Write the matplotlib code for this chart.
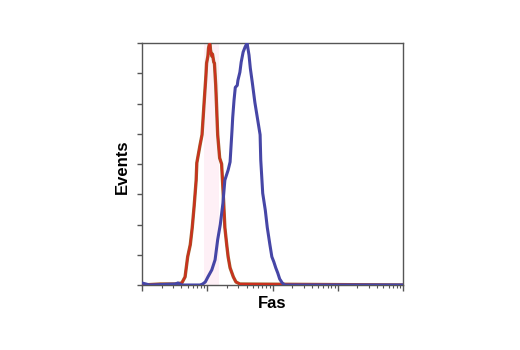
#!/usr/bin/env python3

import matplotlib

matplotlib.use("Agg")
import matplotlib.pyplot as plt
import numpy as np
from matplotlib.ticker import LogLocator, MultipleLocator, NullFormatter

plt.rcParams["font.family"] = ["Liberation Sans Narrow", "Liberation Sans", "DejaVu Sans"]

# isotype control (red): log10 intensity, events
red_log = [0.00, 0.28, 0.51, 0.61, 0.66, 0.70, 0.74, 0.77, 0.80, 0.83, 0.84, 0.89,
           0.92, 0.95, 0.98, 0.99, 1.01, 1.02, 1.04, 1.05, 1.07, 1.08, 1.10, 1.11,
           1.13, 1.16, 1.19, 1.22, 1.25, 1.27, 1.30, 1.32, 1.35, 1.40, 1.44, 1.50, 4.00]
red_cnt = [0, 1, 1, 2, 8, 28, 40, 57, 79, 104, 121, 139,
           149, 179, 208, 220, 227, 235, 241, 233, 227, 229, 221, 220,
           198, 149, 126, 120, 84, 57, 39, 28, 17, 8, 3, 1, 0]

# Fas staining (blue)
blue_log = [0.00, 0.06, 0.12, 0.51, 0.55, 0.61, 0.89, 0.93, 0.97, 1.01, 1.07, 1.12,
            1.16, 1.20, 1.24, 1.27, 1.32, 1.35, 1.38, 1.39, 1.41, 1.43, 1.46, 1.47,
            1.50, 1.52, 1.55, 1.58, 1.61, 1.64, 1.66, 1.69, 1.73, 1.76, 1.81, 1.82,
            1.85, 1.89, 1.92, 1.96, 1.99, 2.02, 2.05, 2.08, 2.11, 2.15, 2.19, 4.00]
blue_cnt = [2, 1, 0, 1, 2, 0, 0, 1, 3, 8, 15, 25,
            45, 60, 81, 104, 114, 122, 154, 166, 183, 196, 198, 203,
            211, 221, 231, 236, 240, 228, 215, 201, 181, 169, 149, 124,
            91, 74, 57, 40, 28, 23, 17, 12, 6, 2, 0, 0]

fig = plt.figure(figsize=(5.2, 3.5), dpi=100)
ax = fig.add_axes([142 / 520, 65 / 350, 261 / 520, 242 / 350])

# faint pink smear behind the control peak
ax.axvspan(10 ** 0.95, 10 ** 1.18, color="#fef0f6", zorder=0, lw=0)

ax.plot(10 ** np.array(red_log), red_cnt, color="#a0602c", lw=2.4, zorder=2,
        solid_joinstyle="round")
ax.plot(10 ** np.array(red_log), red_cnt, color="#cc2f1e", lw=1.5, zorder=3,
        solid_joinstyle="round")
ax.plot(10 ** np.array(blue_log), blue_cnt, color="#4646a6", lw=2.2, zorder=4,
        solid_joinstyle="round")

ax.set_xscale("log")
ax.set_xlim(1, 1e4)
ax.set_ylim(0, 240)
ax.xaxis.set_major_locator(LogLocator(base=10, numticks=10))
ax.xaxis.set_minor_locator(LogLocator(base=10, subs=np.arange(2, 10), numticks=20))
ax.xaxis.set_major_formatter(NullFormatter())
ax.xaxis.set_minor_formatter(NullFormatter())
ax.yaxis.set_major_locator(MultipleLocator(30))
ax.yaxis.set_major_formatter(NullFormatter())

for sp in ax.spines.values():
    sp.set_color("#555555")
    sp.set_linewidth(1.0)
ax.tick_params(axis="x", which="major", length=4.5, width=1.0, color="#555555", direction="out")
ax.tick_params(axis="x", which="minor", length=2.5, width=0.8, color="#555555", direction="out")
ax.tick_params(axis="y", which="major", length=3.5, width=1.0, color="#555555", direction="out")

fig.text(272 / 520, 1 - 303 / 350, "Fas", ha="center", va="center",
         fontsize=12, fontweight="bold")
fig.text(122 / 520, 1 - 167 / 350, "Events", ha="center", va="center",
         rotation=90, fontsize=12, fontweight="bold")

fig.savefig("out.png", dpi=100, facecolor="white")
